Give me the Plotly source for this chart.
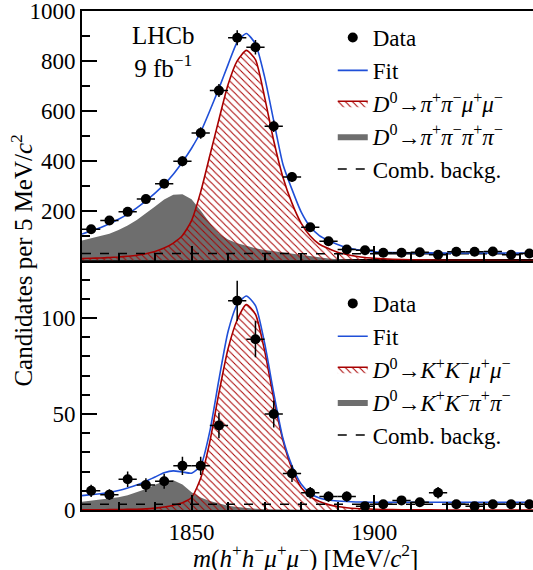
import plotly.graph_objects as go
import numpy as np

# ---------------- data ----------------
bin_centers = [1822.5, 1827.5, 1832.5, 1837.5, 1842.5, 1847.5, 1852.5, 1857.5, 1862.5,
               1867.5, 1872.5, 1877.5, 1882.5, 1887.5, 1892.5, 1897.5, 1902.5, 1907.5,
               1912.5, 1917.5, 1922.5, 1927.5, 1932.5, 1937.5, 1942.5]
top_counts = [125, 160, 195, 246, 308, 398, 511, 681, 893, 855, 538, 335, 133, 77, 44, 41,
              31, 31, 33, 23, 35, 35, 36, 23, 28]
bot_counts = [10, 8, 16, 13, 15, 23, 23, 44, 109, 89, 50, 19, 9, 7, 7, 2, 3, 5, 4, 9, 3, 2,
              3, 3, 3]

fit_x = [1820, 1822.5, 1825, 1827.5, 1830, 1832.5, 1835, 1837.5, 1840, 1842.5, 1845, 1847.5,
         1850, 1852.5, 1855, 1857.5, 1860, 1862.5, 1865, 1867.5, 1870, 1872.5, 1875, 1877.5,
         1880, 1882.5, 1885, 1887.5, 1890, 1892.5, 1895, 1897.5, 1900, 1905, 1910, 1920,
         1930, 1945]

top_fit = [106, 118, 131, 147, 165, 186, 211, 239, 270, 305, 346, 395, 450, 515, 600, 690,
           785, 875, 910, 868, 736, 560, 387, 285, 195, 135, 100, 80, 64, 52, 44, 39, 35, 32,
           31, 30, 30, 30]
top_sig = [8, 9, 10, 12, 14, 17, 21, 27, 36, 50, 70, 100, 160, 275, 420, 565, 705, 800, 842,
           805, 655, 480, 335, 230, 150, 98, 65, 48, 33, 24, 17, 12, 9, 5, 3, 1, 0.5, 0]
top_misid = [80, 88, 96, 107, 122, 140, 162, 188, 216, 244, 264, 266, 245, 200, 150, 108, 84,
             69, 58, 49, 42, 37, 32, 27, 22, 17, 12, 8, 5, 3, 2, 1, 0.5, 0, 0, 0, 0, 0]
comb_x = [1820, 1945]
top_comb = [28, 27]

bot_fit = [7.5, 8, 8.5, 9.2, 10.2, 11.5, 13, 15, 17.2, 19.4, 20.4, 19.8, 19.2, 23, 41, 68,
           93, 107, 111.5, 106.5, 87, 61, 37.5, 23, 13.5, 8.7, 6.2, 5.2, 4.7, 4.4, 4.2, 4.1,
           4, 4, 4, 4, 4, 4]
bot_sig = [0.1, 0.12, 0.15, 0.18, 0.2, 0.3, 0.4, 0.6, 1, 1.6, 2.5, 3.8, 6.5, 16.5, 35.5, 61,
           84, 99, 107, 102, 83, 58, 36.5, 21.5, 11.8, 7, 4.4, 2.8, 1.8, 1.2, 0.8, 0.6, 0.4,
           0.2, 0.1, 0, 0, 0]
bot_misid = [4.3, 4.8, 5.3, 5.9, 6.6, 7.7, 9.2, 11, 13.2, 15, 15.5, 13.3, 9.3, 6.5, 4.7, 3.3,
             2.2, 1.5, 1, 0.6, 0.4, 0.3, 0.2, 0.15, 0.1, 0.05, 0, 0, 0, 0, 0, 0, 0, 0, 0, 0,
             0, 0]
bot_comb = [3, 3]

# ---------------- style ----------------
FONT = "Liberation Serif, Times New Roman, serif"
FS = 23      # tick labels / legend
FT = 25      # titles / labels
BLUE = "#1f4fd8"
RED = "#a80000"
GRAY = "#6e6e6e"

fig = go.Figure()


def add_panel(xa, ya, legend, counts, fit, sig, misid, comb, sig_name, mis_name):
    fig.add_trace(go.Scatter(
        x=fit_x, y=misid, xaxis=xa, yaxis=ya, mode="lines", fill="tozeroy",
        line=dict(color=GRAY, width=0), fillcolor=GRAY, name=mis_name,
        legend=legend, legendrank=4))
    fig.add_trace(go.Scatter(
        x=fit_x, y=sig, xaxis=xa, yaxis=ya, mode="lines", fill="tozeroy",
        line=dict(color=RED, width=1.6, shape="spline", smoothing=0.6),
        fillcolor="rgba(0,0,0,0)",
        fillpattern=dict(shape="\\", fgcolor=RED, size=5, solidity=0.2, fillmode="replace"),
        name=sig_name, legend=legend, legendrank=3))
    fig.add_trace(go.Scatter(
        x=comb_x, y=comb, xaxis=xa, yaxis=ya, mode="lines",
        line=dict(color="black", width=1.5, dash="dash"), name="Comb. backg.",
        legend=legend, legendrank=5))
    fig.add_trace(go.Scatter(
        x=fit_x, y=fit, xaxis=xa, yaxis=ya, mode="lines",
        line=dict(color=BLUE, width=1.6, shape="spline", smoothing=0.6), name="Fit",
        legend=legend, legendrank=2))
    fig.add_trace(go.Scatter(
        x=bin_centers, y=counts, xaxis=xa, yaxis=ya, mode="markers",
        marker=dict(color="black", size=10),
        error_y=dict(type="data", array=list(np.sqrt(counts)), color="black", thickness=1.5,
                     width=0),
        error_x=dict(type="constant", value=2.5, color="black", thickness=1.5, width=0),
        name="Data", legend=legend, legendrank=1))


add_panel("x2", "y2", "legend", top_counts, top_fit, top_sig, top_misid, top_comb,
          "<i>D</i><sup>0</sup>→<i>π</i><sup>+</sup><i>π</i><sup>−</sup><i>μ</i><sup>+</sup><i>μ</i><sup>−</sup>",
          "<i>D</i><sup>0</sup>→<i>π</i><sup>+</sup><i>π</i><sup>−</sup><i>π</i><sup>+</sup><i>π</i><sup>−</sup>")
add_panel("x", "y", "legend2", bot_counts, bot_fit, bot_sig, bot_misid, bot_comb,
          "<i>D</i><sup>0</sup>→<i>K</i><sup>+</sup><i>K</i><sup>−</sup><i>μ</i><sup>+</sup><i>μ</i><sup>−</sup>",
          "<i>D</i><sup>0</sup>→<i>K</i><sup>+</sup><i>K</i><sup>−</sup><i>π</i><sup>+</sup><i>π</i><sup>−</sup>")

XR = [1820, 1943.5]
axis_common = dict(showline=True, linewidth=2, linecolor="black", mirror=True,
                   ticks="inside", tickcolor="black", tickwidth=1.5, showgrid=False,
                   zeroline=False, automargin=False, ticklabeloverflow="allow",
                   tickfont=dict(family=FONT, size=FS, color="black"))

legend_common = dict(font=dict(family=FONT, size=FS, color="black"), bgcolor="rgba(0,0,0,0)",
                     xanchor="left", yanchor="top", traceorder="normal",
                     tracegroupgap=0, itemwidth=30)

fig.update_layout(
    width=533, height=570,
    margin=dict(l=82, r=0, t=11, b=60, autoexpand=False),
    paper_bgcolor="white", plot_bgcolor="white",
    font=dict(family=FONT, size=FS, color="black"),
    xaxis=dict(**axis_common, range=XR, domain=[0, 1], anchor="y",
               tickvals=[1850, 1900], ticklen=15,
               minor=dict(dtick=10, tick0=1820, ticklen=8, ticks="inside", tickcolor="black")),
    yaxis=dict(**axis_common, range=[0, 130], domain=[0, 0.5], anchor="x",
               tickvals=[0, 50, 100], ticklen=15,
               minor=dict(dtick=10, tick0=0, ticklen=8, ticks="inside", tickcolor="black")),
    xaxis2=dict(**axis_common, range=XR, domain=[0, 1], anchor="y2", matches="x",
                showticklabels=False, tickvals=[1850, 1900], ticklen=15,
                minor=dict(dtick=10, tick0=1820, ticklen=8, ticks="inside", tickcolor="black")),
    yaxis2=dict(**axis_common, range=[0, 1000], domain=[0.5, 1], anchor="x2",
                tickvals=[200, 400, 600, 800, 1000], ticklen=15,
                minor=dict(dtick=100, tick0=0, ticklen=8, ticks="inside", tickcolor="black")),
    legend=dict(**legend_common, x=0.556, y=0.99),
    legend2=dict(**legend_common, x=0.556, y=0.457),
    showlegend=True,
)

fig.add_annotation(text="Candidates per 5 MeV/<i>c</i><sup>2</sup>", textangle=-90,
                   xref="paper", yref="paper", x=-0.135, y=0.5, xanchor="center",
                   yanchor="middle", showarrow=False, font=dict(family=FONT, size=FT))
fig.add_annotation(text="<i>m</i>(<i>h</i><sup>+</sup><i>h</i><sup>−</sup><i>μ</i><sup>+</sup><i>μ</i><sup>−</sup>) [MeV/<i>c</i><sup>2</sup>]",
                   xref="paper", yref="paper", x=0.495, y=-0.093, xanchor="center",
                   yanchor="middle", showarrow=False, font=dict(family=FONT, size=FT))
fig.add_annotation(text="LHCb<br>9 fb<sup>−1</sup>", xref="paper", yref="paper",
                   x=0.18, y=0.918, xanchor="center", yanchor="middle", showarrow=False,
                   font=dict(family=FONT, size=FT))

fig.write_html("out.html", config={"displayModeBar": False},
               post_script="document.body.style.margin='0px';")
